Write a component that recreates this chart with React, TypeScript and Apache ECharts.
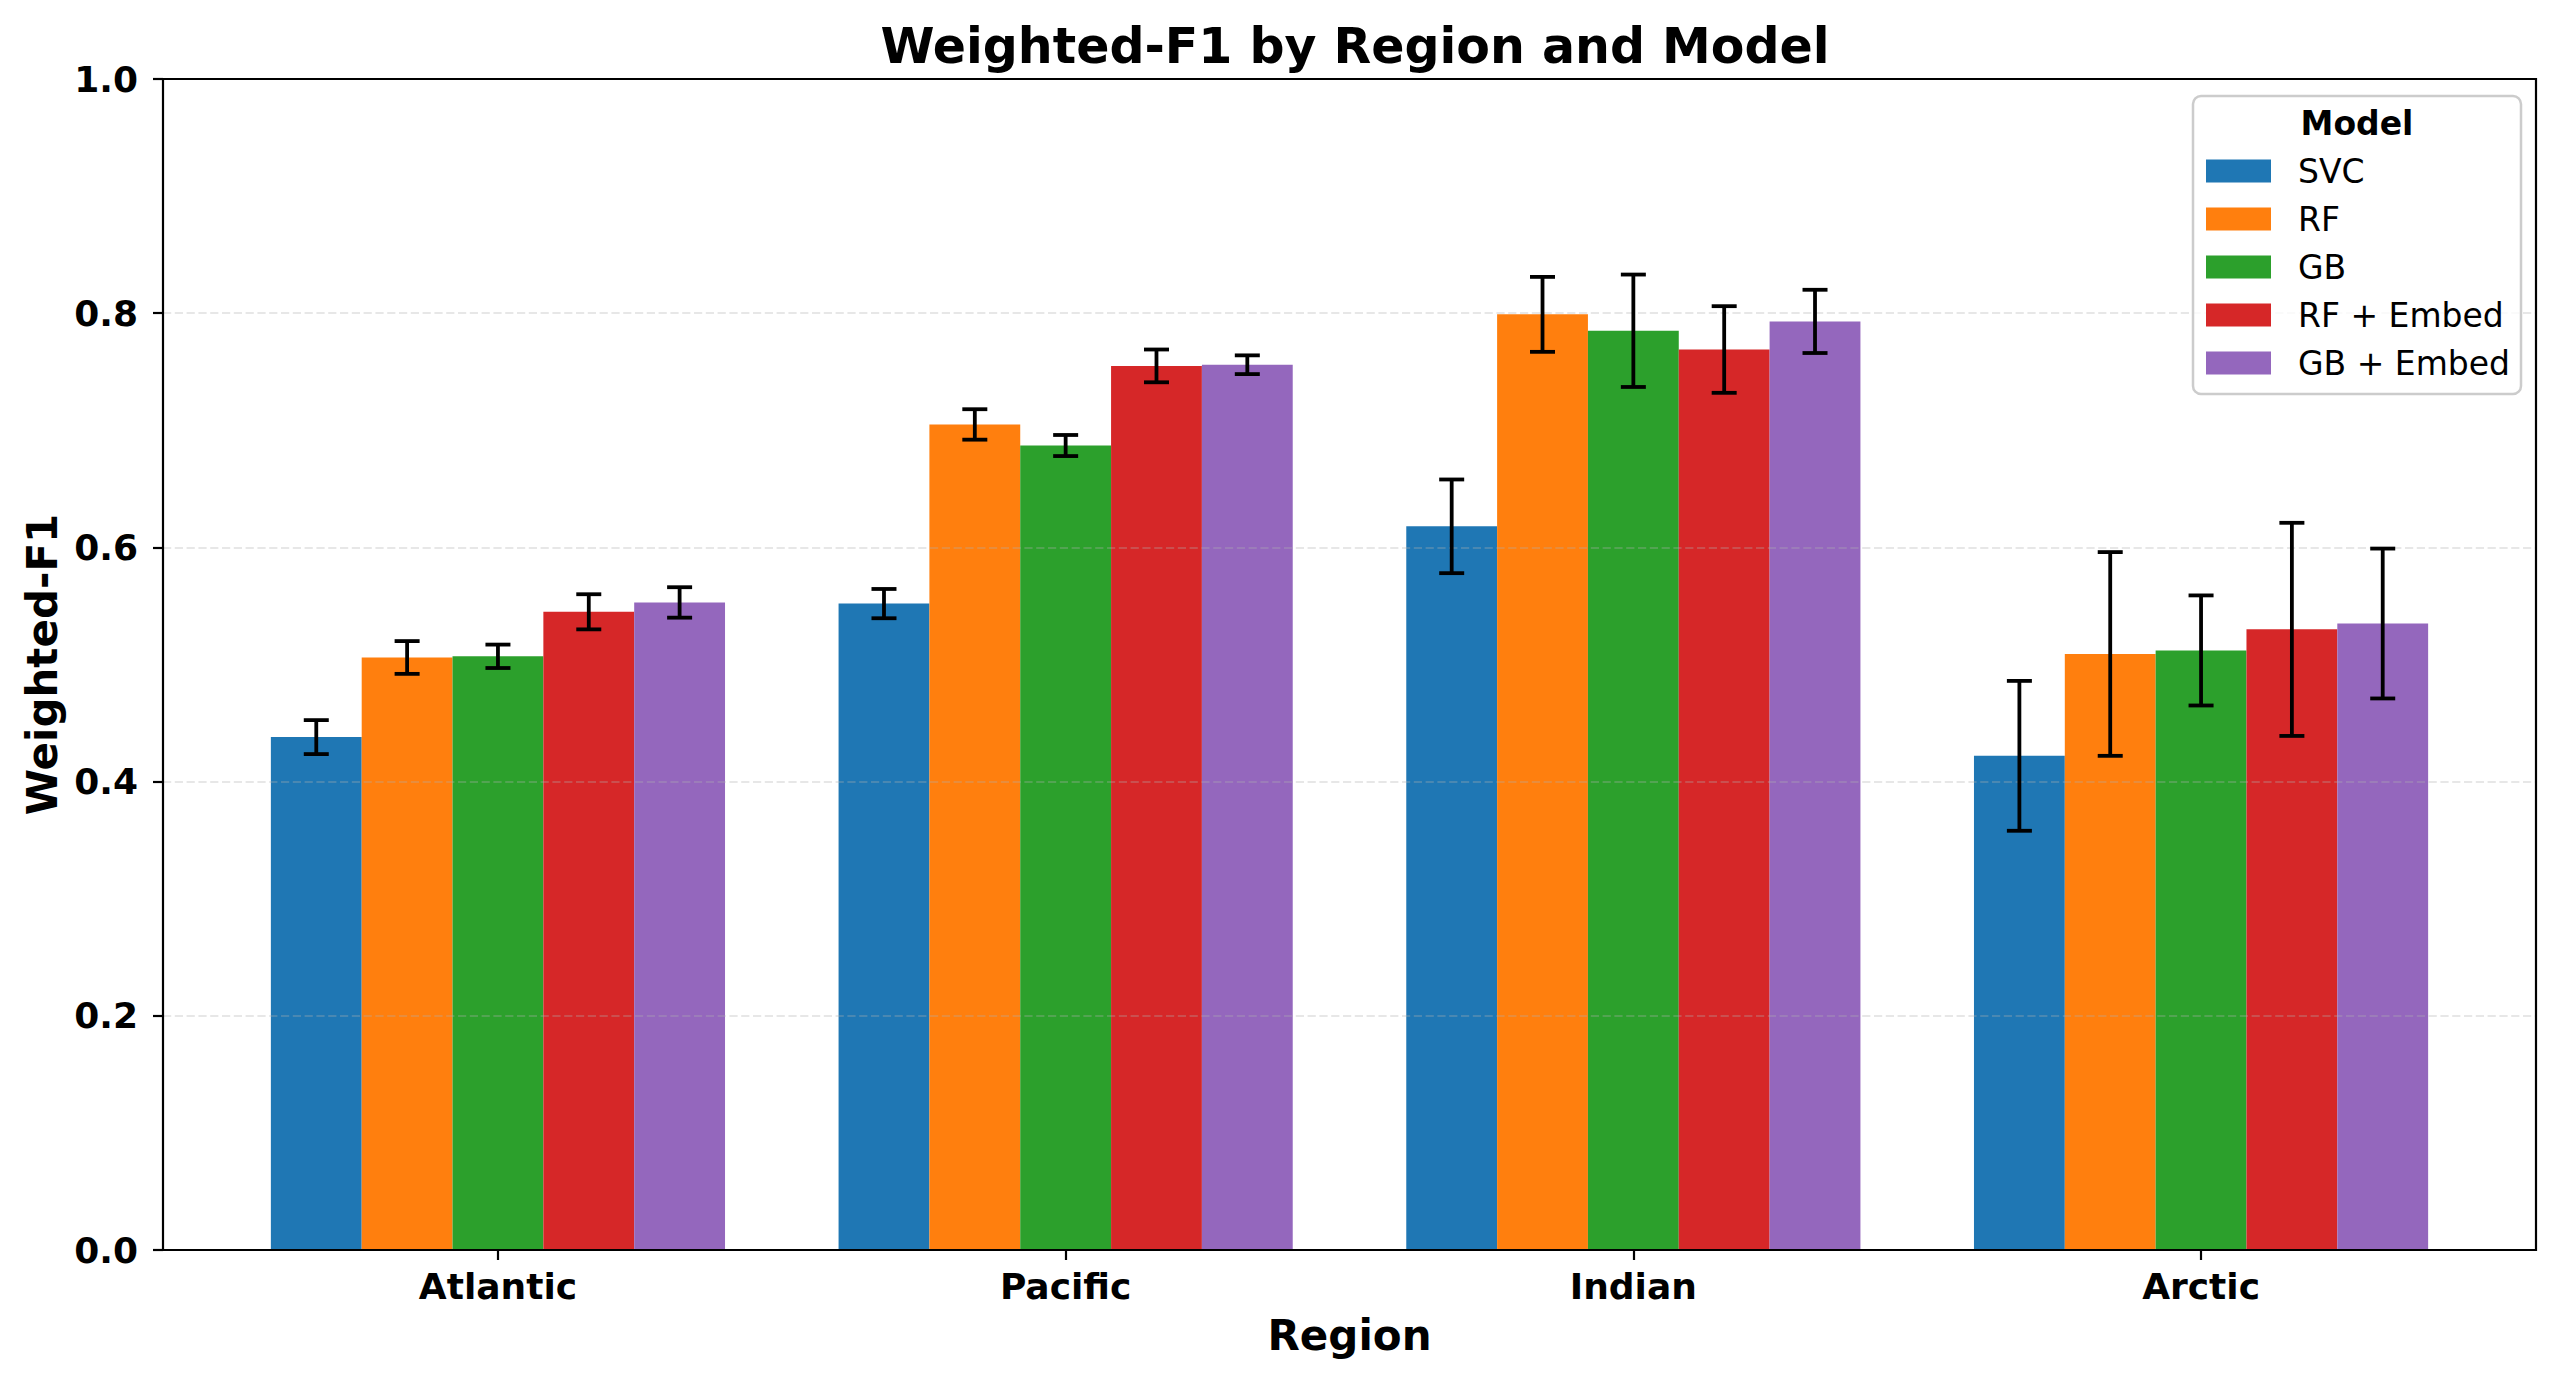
import React, { useEffect, useRef } from "react";
import * as echarts from "echarts";

const regions = ["Atlantic", "Pacific", "Indian", "Arctic"];
const models = ["SVC", "RF", "GB", "RF + Embed", "GB + Embed"];
const colors = ["#1f77b4", "#ff7f0e", "#2ca02c", "#d62728", "#9467bd"];

const svcMean = [0.438, 0.552, 0.618, 0.422];
const svcErr = [0.0145, 0.0125, 0.04, 0.064];
const rfMean = [0.506, 0.705, 0.799, 0.509];
const rfErr = [0.014, 0.013, 0.032, 0.087];
const gbMean = [0.507, 0.687, 0.785, 0.512];
const gbErr = [0.01, 0.009, 0.048, 0.047];
const rfEmbMean = [0.545, 0.755, 0.769, 0.53];
const rfEmbErr = [0.015, 0.014, 0.037, 0.091];
const gbEmbMean = [0.553, 0.756, 0.793, 0.535];
const gbEmbErr = [0.013, 0.008, 0.027, 0.064];

const yTicks = [0, 0.2, 0.4, 0.6, 0.8, 1.0];

const means = [svcMean, rfMean, gbMean, rfEmbMean, gbEmbMean];
const errs = [svcErr, rfErr, gbErr, rfEmbErr, gbEmbErr];

const FONT = "DejaVu Sans";
const BAR_W = 0.16;

export default function App() {
  const ref = useRef<HTMLDivElement>(null);
  useEffect(() => {
    if (!ref.current) return;
    const chart = echarts.init(ref.current, null, { renderer: "svg" });
    const nModels = models.length;

    const barSeries = models.map((m, j) => ({
      type: "custom",
      name: m,
      xAxisIndex: 0,
      yAxisIndex: 0,
      z: 2,
      itemStyle: { color: colors[j] },
      data: regions.map((_, i) => [i, means[j][i]]),
      renderItem: (params: any, api: any) => {
        const cx = api.value(0) + (j - (nModels - 1) / 2) * BAR_W;
        const v = api.value(1);
        const p0 = api.coord([cx - BAR_W / 2, v]);
        const p1 = api.coord([cx + BAR_W / 2, 0]);
        return {
          type: "rect",
          shape: { x: p0[0], y: p0[1], width: p1[0] - p0[0], height: p1[1] - p0[1] },
          style: { fill: colors[j] },
        };
      },
    }));

    const errSeries = models.map((m, j) => ({
      type: "custom",
      name: m + " err",
      xAxisIndex: 0,
      yAxisIndex: 0,
      z: 5,
      silent: true,
      data: regions.map((_, i) => [i, means[j][i], errs[j][i]]),
      renderItem: (params: any, api: any) => {
        const cx = api.value(0) + (j - (nModels - 1) / 2) * BAR_W;
        const v = api.value(1);
        const e = api.value(2);
        const top = api.coord([cx, v + e]);
        const bot = api.coord([cx, v - e]);
        const cap = 12.5;
        const st = { stroke: "#000", lineWidth: 3.8 };
        return {
          type: "group",
          children: [
            { type: "line", shape: { x1: top[0], y1: top[1], x2: bot[0], y2: bot[1] }, style: st },
            { type: "line", shape: { x1: top[0] - cap, y1: top[1], x2: top[0] + cap, y2: top[1] }, style: st },
            { type: "line", shape: { x1: bot[0] - cap, y1: bot[1], x2: bot[0] + cap, y2: bot[1] }, style: st },
          ],
        };
      },
    }));

    const option: any = {
      animation: false,
      backgroundColor: "#fff",
      textStyle: { fontFamily: FONT },
      title: {
        text: "Weighted-F1 by Region and Model",
        left: 1350,
        textAlign: "center",
        top: 17,
        textStyle: { fontFamily: FONT, fontSize: 49, fontWeight: "bold", color: "#000" },
      },
      grid: [
        {
          left: 163,
          right: 24,
          top: 79,
          bottom: 135,
          show: true,
          borderColor: "#000",
          borderWidth: 2.2,
          z: 10,
          containLabel: false,
          outerBoundsMode: "none",
        },
        {
          left: 214.1,
          right: 75.1,
          top: 79,
          bottom: 135,
          show: false,
          containLabel: false,
          outerBoundsMode: "none",
        },
      ],
      xAxis: [
        {
          type: "value",
          gridIndex: 0,
          min: -0.59,
          max: 3.59,
          axisLine: { show: false, onZero: false },
          axisTick: { show: false },
          axisLabel: { show: false },
          splitLine: { show: false },
        },
        {
          type: "category",
          gridIndex: 1,
          data: regions,
          z: 6,
          axisLine: { show: false, onZero: false },
          axisTick: { show: true, alignWithLabel: true, length: 10, lineStyle: { color: "#000", width: 2.2 } },
          axisLabel: {
            margin: 18,
            fontFamily: FONT,
            fontSize: 36,
            fontWeight: "bold",
            color: "#000",
          },
          splitLine: { show: false },
          name: "Region",
          nameLocation: "middle",
          nameGap: 64,
          nameTextStyle: { fontFamily: FONT, fontSize: 42, fontWeight: "bold", color: "#000" },
        },
      ],
      yAxis: [
        {
          type: "value",
          gridIndex: 0,
          min: yTicks[0],
          max: yTicks[yTicks.length - 1],
          interval: 0.2,
          z: 3,
          axisLine: { show: false, onZero: false },
          axisTick: { show: true, length: 10, lineStyle: { color: "#000", width: 2.2 } },
          axisLabel: {
            margin: 25,
            fontFamily: FONT,
            fontSize: 36,
            fontWeight: "bold",
            color: "#000",
            formatter: (v: number) => v.toFixed(1),
          },
          splitLine: {
            show: true,
            showMinLine: false,
            showMaxLine: false,
            lineStyle: { color: "rgba(176,176,176,0.3)", width: 2.2, type: [8.2, 3.6] },
          },
          name: "Weighted-F1",
          nameLocation: "middle",
          nameGap: 99,
          nameTextStyle: { fontFamily: FONT, fontSize: 42, fontWeight: "bold", color: "#000" },
        },
        {
          type: "value",
          gridIndex: 1,
          min: 0,
          max: 1,
          show: false,
          axisLine: { onZero: false },
        },
      ],
      legend: {
        data: models,
        orient: "vertical",
        left: 2206,
        top: 154.5,
        padding: 0,
        itemWidth: 65,
        itemHeight: 23,
        itemGap: 15,
        icon: "rect",
        z: 60,
        selectedMode: false,
        textStyle: {
          fontFamily: FONT,
          fontSize: 33,
          lineHeight: 33,
          color: "#000",
          padding: [0, 0, 0, 22],
        },
      },
      graphic: [
        {
          type: "rect",
          z: 50,
          shape: { x: 2193, y: 96, width: 328, height: 298, r: 8 },
          style: { fill: "rgba(255,255,255,0.8)", stroke: "#cccccc", lineWidth: 2.5 },
        },
        {
          type: "text",
          z: 55,
          x: 2357,
          y: 123,
          style: {
            text: "Model",
            fontFamily: FONT,
            fontSize: 33,
            fontWeight: "bold",
            fill: "#000",
            align: "center",
            verticalAlign: "middle",
          },
        },
      ],
      series: [...barSeries, ...errSeries],
    };
    chart.setOption(option);
    return () => chart.dispose();
  }, []);
  return (
    <div
      ref={ref}
      style={{ position: "fixed", left: 0, top: 0, width: 2560, height: 1385, background: "#fff" }}
    />
  );
}
